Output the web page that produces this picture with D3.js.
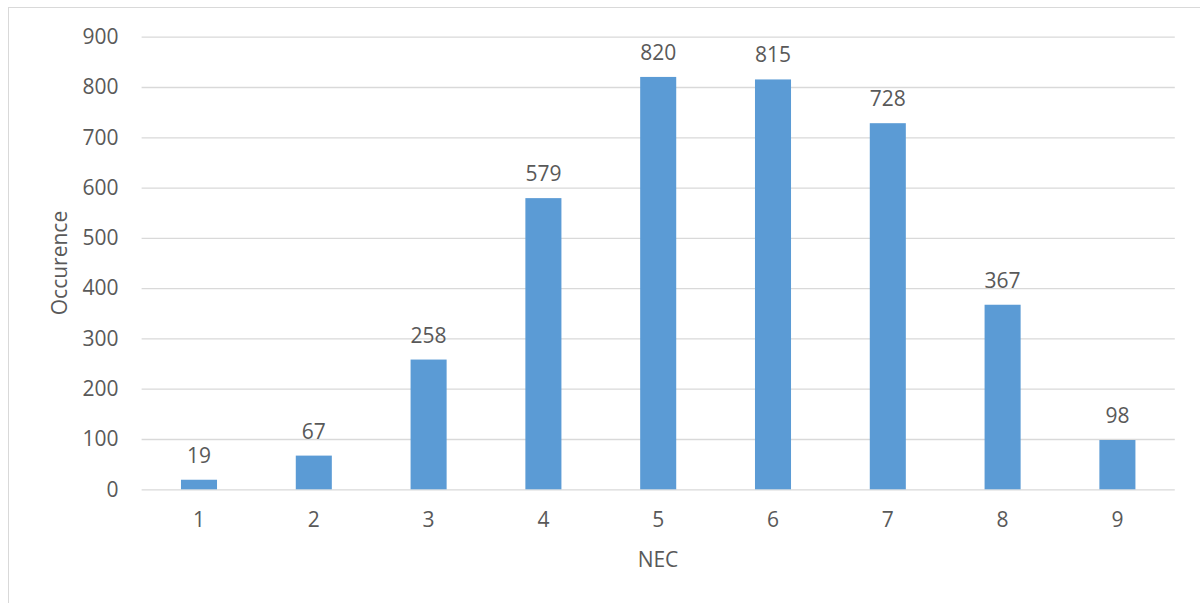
<!DOCTYPE html>
<html><head><meta charset="utf-8">
<script src="https://cdn.jsdelivr.net/npm/d3@7"></script>
<style>body{margin:0;background:#fff}svg{display:block}text{font-family:"Open Sans",sans-serif;fill:#595959}</style>
</head><body><svg id="c" width="1200" height="603"></svg>
<script>
const categories = ["1","2","3","4","5","6","7","8","9"];
const values = [19,67,258,579,820,815,728,367,98];
const yTicks = [0,100,200,300,400,500,600,700,800,900];

const svg = d3.select("#c");
svg.append("rect").attr("x",8.5).attr("y",7.5).attr("width",1200).attr("height",600)
  .attr("fill","none").attr("stroke","#d9d9d9").attr("stroke-width",1);

const x = d3.scaleBand().domain(categories).range([141.6,1174.8]).paddingInner(0.686).paddingOuter(0.343);
const y = d3.scaleLinear().domain([0,900]).range([489.3,36.7]);

const yAxis = d3.axisLeft(y).tickValues(yTicks).tickSize(-(1174.8-141.6)).tickPadding(23);
const gy = svg.append("g").attr("transform","translate(141.6,0)").call(yAxis);
gy.select(".domain").remove();
gy.selectAll(".tick line").attr("stroke","#d9d9d9").attr("stroke-width",1.3);
gy.selectAll(".tick text").attr("font-size",21).attr("fill","#595959").style("font-family","'Open Sans',sans-serif");

svg.selectAll("rect.bar").data(values).enter().append("rect").attr("class","bar")
  .attr("x",(d,i)=>x(categories[i])).attr("width",x.bandwidth())
  .attr("y",d=>y(d)).attr("height",d=>y(0)-y(d)).attr("fill","#5b9bd5");

svg.selectAll("text.val").data(values).enter().append("text").attr("class","val")
  .attr("x",(d,i)=>x(categories[i])+x.bandwidth()/2).attr("y",d=>y(d)-17)
  .attr("text-anchor","middle").attr("font-size",21).text(d=>d);

const xAxis = d3.axisBottom(x).tickSize(0).tickPadding(23);
const gx = svg.append("g").attr("transform","translate(0,489.3)").call(xAxis);
gx.select(".domain").remove();
gx.selectAll(".tick text").attr("font-size",21).attr("fill","#595959").style("font-family","'Open Sans',sans-serif");

svg.append("text").attr("x",658).attr("y",567).attr("text-anchor","middle").attr("font-size",21).text("NEC");
svg.append("text").attr("transform","translate(67,263) rotate(-90)").attr("text-anchor","middle").attr("font-size",21).text("Occurence");
</script></body></html>
